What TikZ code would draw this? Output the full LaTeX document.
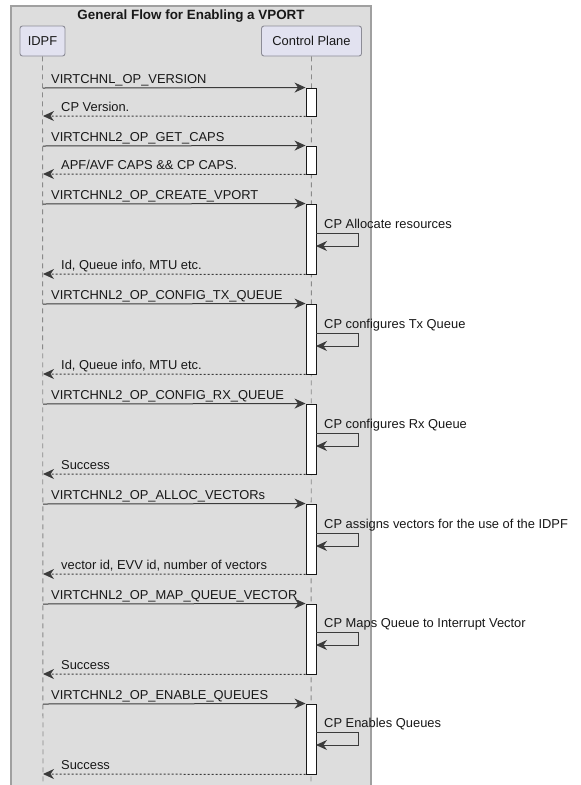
\documentclass[tikz,border=0pt]{standalone}
\usepackage{fontspec}
\setmainfont{Liberation Sans}
\usetikzlibrary{arrows.meta}
\definecolor{framefill}{HTML}{DDDDDD}
\definecolor{frameline}{HTML}{A0A0A0}
\definecolor{partfill}{HTML}{E2E2F0}
\definecolor{partline}{HTML}{8C8C96}
\definecolor{ink}{HTML}{181818}
\definecolor{lifeline}{HTML}{8A8A8A}
\tikzset{
  part/.style={draw=partline, fill=partfill, rounded corners=2.5pt, line width=0.9pt, minimum height=30pt, inner xsep=6pt, font=\fontsize{12.9}{15}\selectfont, text=ink},
  life/.style={draw=lifeline, dash pattern=on 5pt off 4pt, line width=0.9pt},
  actbox/.style={draw=ink, fill=white, line width=0.9pt, minimum width=10pt, inner sep=0pt},
  tipshape/.style={-{Stealth[length=11pt,width=10pt,inset=3.5pt]}},
  call/.style={draw=ink!85, line width=1pt, tipshape},
  reply/.style={draw=ink!85, line width=1pt, dash pattern=on 2pt off 2pt, tipshape},
  msg/.style={anchor=base west, inner sep=0pt, font=\fontsize{12.9}{15}\selectfont, text=ink},
}
\begin{document}
\begin{tikzpicture}[x=1pt,y=-1pt]
\useasboundingbox (0,0) rectangle (581,785);
% frame
\path[fill=framefill, draw=frameline, line width=1.3pt] (11,6) rectangle (371,800);
\node[anchor=base, inner sep=0pt, font=\bfseries\fontsize{13.4}{15}\selectfont, text=ink] (title) at (191,19) {General Flow for Enabling a VPORT};
% participants
\node[part, minimum width=45pt] (idpf) at (42.5,41) {IDPF};
\node[part, minimum width=100pt] (cp) at (311.5,41) {Control Plane};
\coordinate (idpfend) at (43,790);
\coordinate (cpend) at (311,790);
\draw[life] (idpf.south) -- (idpfend);
\draw[life] (cp.south) -- (cpend);

% activations
\foreach \n/\t/\b in {1/88/116, 2/146/174, 3/204/274, 4/304/374, 5/404/474, 6/504/574, 7/604/674, 8/704/774}{
  \node[actbox, minimum height={\b-\t}] (act\n) at (311,{(\t+\b)/2}) {};
  \coordinate (src\n) at (43,\t);
  \coordinate (dst\n) at (43,\b);
}

% messages
\foreach \n/\lab in {1/VIRTCHNL\_OP\_VERSION, 2/VIRTCHNL2\_OP\_GET\_CAPS, 3/VIRTCHNL2\_OP\_CREATE\_VPORT, 4/VIRTCHNL2\_OP\_CONFIG\_TX\_QUEUE, 5/VIRTCHNL2\_OP\_CONFIG\_RX\_QUEUE, 6/VIRTCHNL2\_OP\_ALLOC\_VECTORs, 7/VIRTCHNL2\_OP\_MAP\_QUEUE\_VECTOR, 8/VIRTCHNL2\_OP\_ENABLE\_QUEUES}{
  \draw[call] (src\n) -- (act\n.north west);
  \node[msg] (clab\n) at ([xshift=8pt,yshift=5pt]src\n) {\lab};
}
\foreach \n/\lab in {1/{CP Version.}, 2/{APF/AVF CAPS \&\& CP CAPS.}, 3/{Id, Queue info, MTU etc.}, 4/{Id, Queue info, MTU etc.}, 5/{Success}, 6/{vector id, EVV id, number of vectors}, 7/{Success}, 8/{Success}}{
  \draw[reply] (act\n.south west) -- (dst\n);
  \node[msg] (rlab\n) at ([xshift=18pt,yshift=5pt]dst\n) {\lab};
}

% self messages
\foreach \n/\y/\lab in {3/233/{CP Allocate resources}, 4/333/{CP configures Tx Queue}, 5/433/{CP configures Rx Queue}, 6/533/{CP assigns vectors for the use of the IDPF}, 7/632/{CP Maps Queue to Interrupt Vector}, 8/732/{CP Enables Queues}}{
  \coordinate (sa\n) at (316,\y);
  \coordinate (sb\n) at (358,\y);
  \coordinate (sc\n) at (358,\y+13);
  \coordinate (sd\n) at (316,\y+13);
  \draw[call] (sa\n) -- (sb\n) -- (sc\n) -- (sd\n);
  \node[msg] (slab\n) at ([xshift=8pt,yshift=5pt]sa\n) {\lab};
}
\end{tikzpicture}
\end{document}
